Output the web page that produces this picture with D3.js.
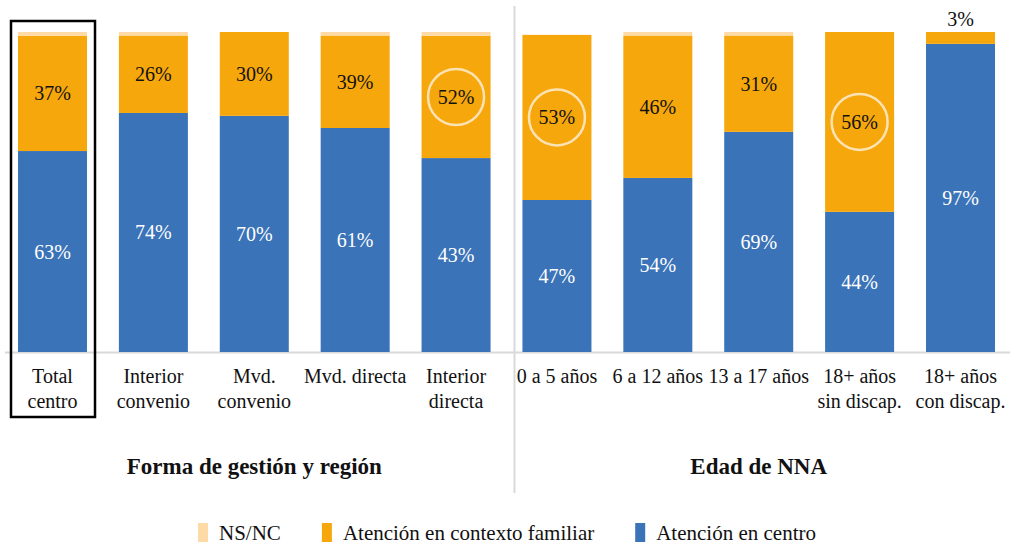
<!DOCTYPE html>
<html>
<head>
<meta charset="utf-8">
<script src="https://cdn.jsdelivr.net/npm/d3@7"></script>
<style>
  body { margin: 0; background: #fff; }
  svg, svg text { font-family: "Liberation Serif", "Times New Roman", serif; }
  svg { display: block; }
</style>
</head>
<body>
<div class="chart"></div>
<script>
// categories (line breaks as in the original labels)
const categories = [
  "Total\ncentro", "Interior\nconvenio", "Mvd.\nconvenio", "Mvd. directa", "Interior\ndirecta",
  "0 a 5 años", "6 a 12 años", "13 a 17 años", "18+ años\nsin discap.", "18+ años\ncon discap."
];
const groups = ["Forma de gestión y región", "Edad de NNA"];
const groupSize = 5;

// segment heights as drawn (% of bar)
const centro = [62.8, 74.7, 73.8, 70.0, 60.6, 47.5, 54.4, 68.8, 43.8, 96.3];
const familiar = [36.0, 24.2, 26.2, 28.9, 38.2, 51.6, 44.5, 30.1, 56.2, 3.7];
const nsnc = [1.2, 1.1, 0, 1.1, 1.2, 0, 1.1, 1.1, 0, 0];

// printed value labels
const centroLabels = [63, 74, 70, 61, 43, 47, 54, 69, 44, 97];
const familiarLabels = [37, 26, 30, 39, 52, 53, 46, 31, 56, 3];

const highlighted = ["Interior\ndirecta", "0 a 5 años", "18+ años\nsin discap."];
const boxed = "Total\ncentro";

const seriesNames = ["Atención en centro", "Atención en contexto familiar", "NS/NC"];
const colors = ["#3a73b8", "#f6a70b", "#fddaa6"];

const W = 1014, H = 544;
const svg = d3.select('.chart')
  .append('svg')
    .attr('width', W)
    .attr('height', H);

const x = d3.scaleBand()
  .domain(categories)
  .range([18, 995])
  .paddingInner(0.316)
  .paddingOuter(0);

const y = d3.scaleLinear()
  .domain([0, 100])
  .range([352, 32]);

const rows = categories.map((c, i) => ({cat: c, centro: centro[i], familiar: familiar[i], nsnc: nsnc[i]}));
const stack = d3.stack().keys(["centro", "familiar", "nsnc"]);
const layers = stack(rows);

// baseline
svg.append('line')
  .attr('x1', x.range()[0] - 13)
  .attr('x2', x.range()[1] + 15)
  .attr('y1', y(0) + 0.5)
  .attr('y2', y(0) + 0.5)
  .style('stroke', '#d9d9d9')
  .style('stroke-width', 2);

// group separator
const sepX = (x(categories[groupSize - 1]) + x.bandwidth() + x(categories[groupSize])) / 2 + 8;
svg.append('line')
  .attr('x1', sepX).attr('x2', sepX)
  .attr('y1', 6).attr('y2', 493)
  .style('stroke', '#d9d9d9')
  .style('stroke-width', 2);

svg.selectAll('g.layer')
  .data(layers)
  .join('g')
    .attr('class', 'layer')
    .style('fill', (d, i) => colors[i])
  .selectAll('rect')
  .data(d => d)
  .join('rect')
    .attr('x', d => x(d.data.cat))
    .attr('width', x.bandwidth())
    .attr('y', d => y(d[1]))
    .attr('height', d => y(d[0]) - y(d[1]));

// value labels
const fmt = v => v + '%';
const cx = c => x(c) + x.bandwidth() / 2;

svg.append('g')
  .selectAll('text')
  .data(layers[0])
  .join('text')
    .attr('x', d => cx(d.data.cat))
    .attr('y', d => (y(d[0]) + y(d[1])) / 2)
    .attr('dy', '0.35em')
    .attr('text-anchor', 'middle')
    .style('font-size', '20px')
    .style('fill', '#fff')
    .text((d, i) => fmt(centroLabels[i]));

svg.append('g')
  .selectAll('text')
  .data(layers[1])
  .join('text')
    .attr('x', d => cx(d.data.cat))
    .attr('y', d => {
      const h = y(d[0]) - y(d[1]);
      return h < 20 ? y(d[1]) - 13 : (y(d[0]) + y(d[1])) / 2;
    })
    .attr('dy', '0.35em')
    .attr('text-anchor', 'middle')
    .style('font-size', '20px')
    .style('fill', '#111')
    .text((d, i) => fmt(familiarLabels[i]));

// highlight circles
svg.append('g')
  .selectAll('circle')
  .data(layers[1].filter(d => highlighted.includes(d.data.cat)))
  .join('circle')
    .attr('cx', d => cx(d.data.cat))
    .attr('cy', d => (y(d[0]) + y(d[1])) / 2)
    .attr('r', 28)
    .style('fill', 'none')
    .style('stroke', '#fde2b4')
    .style('stroke-width', 2.5);

// category labels
const xAxis = d3.axisBottom(x).tickSize(0).tickPadding(0).tickFormat('');
const gx = svg.append('g')
  .attr('transform', `translate(0, ${y(0)})`)
  .call(xAxis);
gx.select('.domain').remove();
gx.selectAll('.tick').append('text')
  .attr('text-anchor', 'middle')
  .style('font-family', '"Liberation Serif", serif')
  .style('font-size', '20px')
  .style('fill', '#111')
  .selectAll('tspan')
  .data(d => d.split('\n'))
  .join('tspan')
    .attr('x', 0)
    .attr('y', (d, i) => 31 + i * 25)
    .text(d => d);

// box round "Total centro"
svg.append('rect')
  .attr('x', x(boxed) - 7)
  .attr('y', y(100) - 11)
  .attr('width', x.bandwidth() + 15)
  .attr('height', y(0) - y(100) + 11 + 65)
  .style('fill', 'none')
  .style('stroke', '#000')
  .style('stroke-width', 2.5);

// group titles
svg.append('g')
  .selectAll('text')
  .data(groups)
  .join('text')
    .attr('x', (d, i) => (cx(categories[i * groupSize]) + cx(categories[i * groupSize + groupSize - 1])) / 2)
    .attr('y', 466)
    .attr('dy', '0.35em')
    .attr('text-anchor', 'middle')
    .style('font-size', '23px')
    .style('font-weight', 'bold')
    .style('fill', '#111')
    .text(d => d);

// legend
const legendOrder = [2, 1, 0];
const legendGap = 41;
const legend = svg.append('g');
const items = legend.selectAll('g')
  .data(legendOrder)
  .join('g');
items.append('rect')
  .attr('y', 523)
  .attr('width', 10)
  .attr('height', 19)
  .style('fill', i => colors[i]);
items.append('text')
  .attr('x', 21)
  .attr('y', 540)
  .style('font-size', '21px')
  .style('fill', '#111')
  .text(i => seriesNames[i]);
let lx = 0;
items.each(function() {
  d3.select(this).attr('transform', `translate(${lx}, 0)`);
  lx += 21 + this.querySelector('text').getComputedTextLength() + legendGap;
});
legend.attr('transform', `translate(${507 - (lx - legendGap) / 2}, 0)`);
</script>
</body>
</html>
